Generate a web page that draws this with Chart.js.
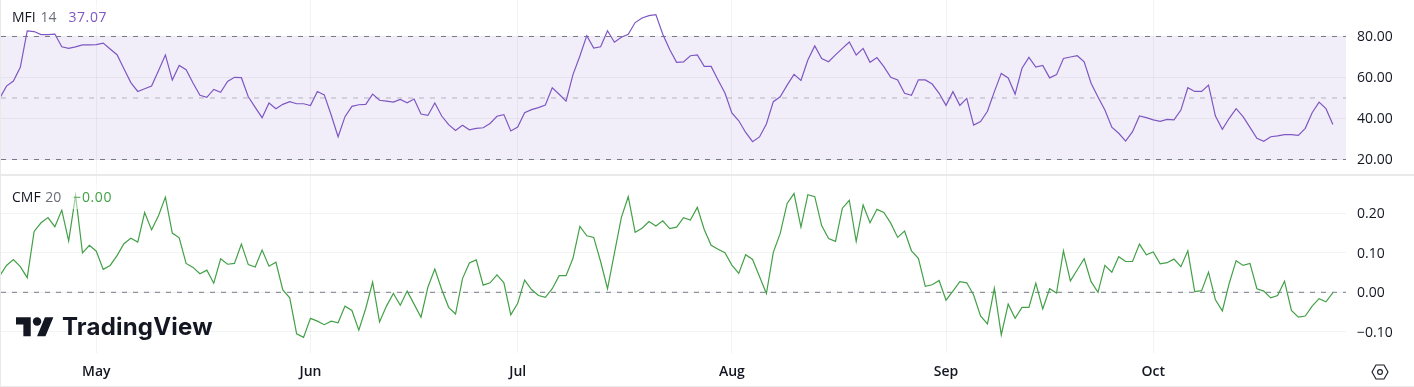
<!DOCTYPE html>
<html>
<head>
<meta charset="utf-8">
<title>MFI / CMF</title>
<script src="https://cdn.jsdelivr.net/npm/chart.js@4"></script>
<style>
  html, body { margin: 0; padding: 0; background: #fff; }
  #wrap { position: relative; width: 1414px; height: 387px; overflow: hidden; font-family: "Open Sans", sans-serif; }
  canvas { position: absolute; left: 0; display: block; }
  .rule { position: absolute; background: #e9e9ea; }
  .legend { position: absolute; left: 8px; height: 24px; line-height: 24px; padding: 0 4px; font-size: 14px; white-space: nowrap; background: rgba(255,255,255,.5); color: #131722; }
  .legend .arg { color: #6a6d78; margin-left: 1px; }
  .legend .val { margin-left: 12px; letter-spacing: .6px; }
  #brand { position: absolute; left: 62px; top: 312px; font: 700 24px/30px Inter, sans-serif; color: #131722; letter-spacing: .2px; }
  #logo { position: absolute; left: 15.7px; top: 312.5px; }
  #gear { position: absolute; left: 1371px; top: 364px; }
</style>
</head>
<body>
<div id="wrap">
  <canvas id="mfiChart" width="1414" height="175" style="top:0"></canvas>
  <canvas id="cmfChart" width="1414" height="211" style="top:176px"></canvas>
  <div class="rule" style="left:0;top:174px;width:1414px;height:2px"></div>
  <div class="rule" style="left:0;top:0;width:1px;height:387px"></div>
  <div class="rule" style="left:0;top:386px;width:1414px;height:1px"></div>
  <div class="legend" style="top:5px">MFI <span class="arg">14</span><span class="val" id="mfiLast" style="color:#7e57c2"></span></div>
  <div class="legend" style="top:185px">CMF <span class="arg">20</span><span class="val" id="cmfLast" style="color:#43a047"></span></div>
  <svg id="logo" width="40" height="28" viewBox="0 0 38 26.6" fill="#131722">
    <path d="M14 22H7V11H0V4h14v18zM28 22h-8l7.5-18h8L28 22z"/><circle cx="20" cy="8" r="4"/>
  </svg>
  <div id="brand">TradingView</div>
  <svg id="gear" width="18" height="16" viewBox="0 0 18 16" fill="none" stroke="#131722" stroke-width="1.1">
    <path d="M5 1h8l4 7-4 7H5L1 8z"/><circle cx="9" cy="8" r="2.4"/>
  </svg>
</div>
<script>
// ---------- Data (one value per calendar day, Apr 17 - Oct 27) ----------
const mfiValues = [
  49.7, 55.8, 58.3, 65.0, 82.7, 82.4, 80.9, 80.9, 81.2, 75.0, 74.2, 74.9, 75.9, 75.9, 76.0, 76.8,
  73.9, 71.1, 64.3, 57.5, 53.2, 54.5, 55.8, 63.3, 71.0, 58.8, 65.9, 63.8, 57.3, 51.3, 50.3, 54.2,
  52.8, 58.1, 60.1, 59.9, 50.6, 45.4, 40.4, 47.6, 44.8, 46.9, 48.2, 47.2, 47.2, 46.3, 53.2, 51.5,
  41.7, 31.1, 40.9, 45.9, 46.7, 46.9, 51.9, 48.9, 48.5, 48.0, 49.3, 47.7, 49.5, 42.2, 41.5, 47.6,
  41.2, 37.0, 34.2, 36.7, 34.5, 35.2, 35.5, 37.6, 41.1, 41.9, 33.9, 35.8, 42.8, 44.3, 45.3, 46.6,
  55.0, 51.8, 48.5, 61.4, 70.5, 80.4, 74.4, 75.0, 82.8, 77.2, 79.6, 81.1, 86.8, 89.0, 90.2, 90.7,
  81.1, 73.7, 67.4, 67.6, 70.6, 71.0, 65.4, 65.4, 58.8, 52.4, 42.7, 38.9, 33.2, 28.7, 31.0, 37.3,
  48.2, 50.6, 56.3, 61.5, 58.6, 68.5, 75.4, 69.3, 67.7, 71.0, 74.2, 77.3, 71.0, 74.2, 67.4, 69.7,
  65.3, 60.1, 58.8, 52.3, 51.3, 58.9, 58.8, 56.8, 52.3, 46.4, 53.1, 46.4, 49.8, 36.8, 38.5, 43.5,
  53.1, 62.0, 59.8, 51.9, 64.5, 69.8, 65.1, 65.9, 59.8, 61.4, 69.3, 70.0, 70.6, 67.6, 57.2, 50.5,
  44.1, 35.8, 32.8, 29.0, 33.6, 41.2, 40.4, 39.3, 38.6, 39.6, 39.3, 44.1, 55.0, 53.2, 53.2, 56.3,
  41.2, 34.7, 40.1, 44.8, 40.9, 35.7, 30.3, 28.9, 31.1, 31.5, 32.1, 32.1, 31.8, 35.2, 42.8, 48.0,
  44.8, 37.07
];
const cmfValues = [
  0.041, 0.068, 0.083, 0.065, 0.037, 0.154, 0.176, 0.189, 0.166, 0.208, 0.130, 0.245, 0.100, 0.119, 0.104, 0.058,
  0.068, 0.093, 0.123, 0.137, 0.127, 0.202, 0.158, 0.194, 0.241, 0.150, 0.138, 0.073, 0.063, 0.047, 0.056, 0.023,
  0.085, 0.071, 0.073, 0.122, 0.070, 0.064, 0.107, 0.066, 0.076, 0.006, -0.014, -0.105, -0.114, -0.066, -0.073, -0.082,
  -0.073, -0.077, -0.035, -0.046, -0.096, -0.041, 0.026, -0.075, -0.035, -0.003, -0.033, 0.003, -0.030, -0.063, 0.013, 0.059,
  0.007, -0.038, -0.055, 0.034, 0.074, 0.082, 0.018, 0.024, 0.044, 0.024, -0.057, -0.028, 0.031, 0.007, -0.008, -0.013,
  0.009, 0.042, 0.042, 0.086, 0.167, 0.143, 0.139, 0.078, 0.009, 0.099, 0.189, 0.242, 0.152, 0.162, 0.179, 0.168,
  0.181, 0.161, 0.165, 0.189, 0.183, 0.215, 0.159, 0.119, 0.109, 0.100, 0.069, 0.048, 0.095, 0.083, 0.040, -0.003,
  0.101, 0.149, 0.225, 0.250, 0.165, 0.247, 0.242, 0.169, 0.136, 0.129, 0.213, 0.233, 0.129, 0.221, 0.176, 0.210,
  0.202, 0.175, 0.139, 0.155, 0.105, 0.086, 0.015, 0.019, 0.030, -0.020, 0.003, 0.027, 0.024, -0.007, -0.060, -0.080,
  0.010, -0.108, -0.030, -0.066, -0.038, -0.038, 0.023, -0.042, 0.009, -0.002, 0.105, 0.029, 0.057, 0.085, 0.027, 0.000,
  0.068, 0.051, 0.090, 0.078, 0.078, 0.122, 0.095, 0.102, 0.072, 0.075, 0.084, 0.065, 0.105, 0.002, 0.004, 0.051,
  -0.019, -0.047, 0.023, 0.080, 0.068, 0.073, 0.009, 0.003, -0.014, -0.008, 0.028, -0.046, -0.063, -0.060, -0.035, -0.016,
  -0.024, -0.001
];
const monthLabels = ["May", "Jun", "Jul", "Aug", "Sep", "Oct"];
const monthDays = [14, 45, 75, 106, 137, 167];
const mfiLevels = [80, 50, 20];
const cmfZero = [0];
const mfiLast = "37.07";
const cmfLast = "\u22120.00";

document.getElementById("mfiLast").textContent = mfiLast;
document.getElementById("cmfLast").textContent = cmfLast;

// ---------- Shared options ----------
const xMin = 0.204, xMax = 194.9;
const textColor = "#131722";
const gridColor = "rgba(42,46,57,0.06)";
const tickFont = { family: "'Open Sans', sans-serif", size: 14 };
const dashGrey = "#787b86";
const dash = [5, 6];

const toPoints = (vals) => vals.map((y, i) => ({ x: i, y }));
const flatLine = (y) => [{ x: xMin, y }, { x: xMax, y }];

// tick labels must not push the chart area in, the panes have fixed pixel sizes
function noScalePadding(scale) {
  scale.paddingTop = scale.paddingBottom = scale.paddingLeft = scale.paddingRight = 0;
}

function xScale(showLabels, height) {
  return {
    type: "linear",
    min: xMin,
    max: xMax,
    afterBuildTicks(scale) { scale.ticks = monthDays.map(value => ({ value })); },
    afterFit(scale) { scale.height = height; noScalePadding(scale); },
    grid: { color: gridColor, drawTicks: false },
    border: { display: false },
    ticks: {
      display: showLabels,
      autoSkip: false,
      maxRotation: 0,
      padding: 11,
      color: textColor,
      font: { ...tickFont, weight: "600" },
      callback: (v) => monthLabels[monthDays.indexOf(v)]
    }
  };
}

function yScale(min, max, step) {
  return {
    position: "right",
    min, max,
    afterFit(scale) { scale.width = 68; noScalePadding(scale); },
    grid: { color: gridColor, drawTicks: false },
    border: { display: false },
    ticks: {
      stepSize: step,
      includeBounds: false,
      padding: 11,
      labelOffset: 1,
      color: textColor,
      font: tickFont,
      callback: (v) => v.toFixed(2).replace("-", "\u2212")
    }
  };
}

function baseOptions(scales) {
  return {
    responsive: false,
    animation: false,
    events: [],
    layout: { autoPadding: false, padding: { left: 1, right: 0, top: 0, bottom: 0 } },
    elements: { point: { radius: 0 }, line: { tension: 0 } },
    plugins: { legend: { display: false }, tooltip: { enabled: false } },
    scales
  };
}

// ---------- MFI pane ----------
new Chart(document.getElementById("mfiChart"), {
  type: "line",
  data: { datasets: [
    { data: toPoints(mfiValues), borderColor: "#7e57c2", borderWidth: 1.2, fill: false },
    { data: flatLine(mfiLevels[0]), borderColor: dashGrey, borderWidth: 1, borderDash: dash,
      fill: { target: 3 }, backgroundColor: "rgba(126,87,194,0.1)" },
    { data: flatLine(mfiLevels[1]), borderColor: "rgba(120,123,134,0.5)", borderWidth: 1, borderDash: dash, fill: false },
    { data: flatLine(mfiLevels[2]), borderColor: dashGrey, borderWidth: 1, borderDash: dash, fill: false }
  ]},
  options: baseOptions({ x: xScale(false, 0), y: yScale(12.44, 97.8, 20) })
});

// ---------- CMF pane ----------
new Chart(document.getElementById("cmfChart"), {
  type: "line",
  data: { datasets: [
    { data: toPoints(cmfValues), borderColor: "#43a047", borderWidth: 1.2, fill: false },
    { data: flatLine(cmfZero[0]), borderColor: dashGrey, borderWidth: 1, borderDash: dash, fill: false }
  ]},
  options: baseOptions({ x: xScale(true, 34.5), y: yScale(-0.1524, 0.2944, 0.1) })
});
</script>
</body>
</html>
